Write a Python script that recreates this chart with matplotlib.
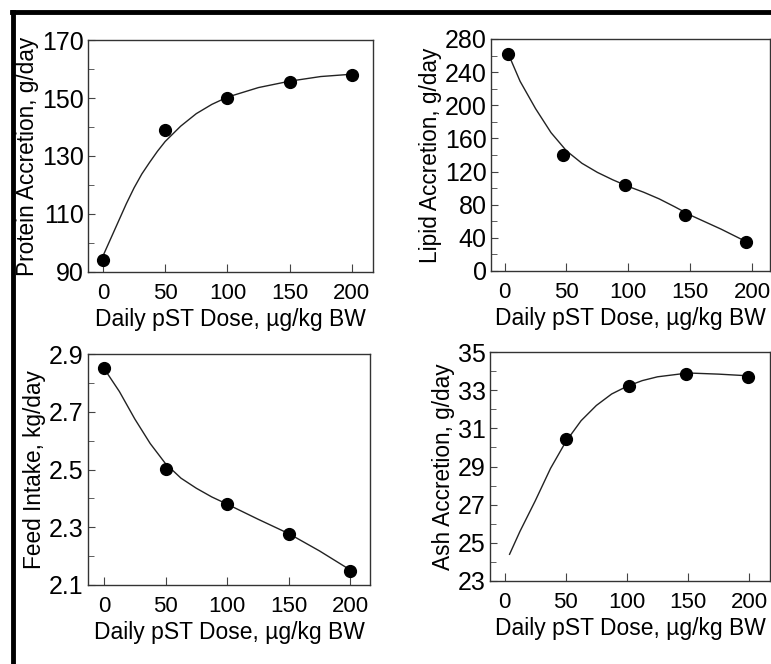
import numpy as np
import matplotlib
matplotlib.use("Agg")
import matplotlib.pyplot as plt
from matplotlib.lines import Line2D
from matplotlib.ticker import FormatStrFormatter

plt.rcParams['font.family'] = ['Liberation Sans', 'DejaVu Sans']

# measured points
dose = [0, 50, 100, 150, 200]
protein = [94, 139, 150, 155.5, 158]
lipid_dose = [3, 47, 97, 146, 195]
lipid = [262, 140, 104, 67.5, 34.5]
feed = [2.853, 2.503, 2.382, 2.276, 2.15]
ash_dose = [50, 102, 148, 199]
ash = [30.45, 33.2, 33.85, 33.7]

# fitted curves
protein_cx = [0, 6.25, 12.5, 18.75, 25, 31.25, 37.5, 43.75, 50, 62.5, 75, 87.5, 100, 125, 150, 175, 200]
protein_cy = [95.5, 101.5, 107.5, 113.5, 119, 123.8, 127.8, 131.6, 135, 140.3, 144.6, 147.8, 150.3,
              153.6, 155.8, 157.4, 158.2]
lipid_cx = [3, 12.5, 25, 37.5, 50, 62.5, 75, 87.5, 100, 112.5, 125, 137.5, 150, 175, 195]
lipid_cy = [262, 229, 196, 167, 145, 130, 119, 110, 102, 95, 87, 77.5, 67.5, 50.5, 35.6]
feed_cx = [0, 12.5, 25, 37.5, 50, 62.5, 75, 87.5, 100, 125, 150, 175, 200]
feed_cy = [2.85, 2.77, 2.675, 2.59, 2.52, 2.47, 2.435, 2.405, 2.38, 2.328, 2.278, 2.218, 2.152]
ash_cx = [4, 12.5, 25, 37.5, 50, 62.5, 75, 87.5, 100, 112.5, 125, 150, 175, 200]
ash_cy = [24.4, 25.6, 27.2, 28.9, 30.3, 31.4, 32.2, 32.8, 33.2, 33.5, 33.7, 33.9, 33.84, 33.75]

protein_ticks = [90, 110, 130, 150, 170]
lipid_ticks = [0, 40, 80, 120, 160, 200, 240, 280]
feed_ticks = [2.1, 2.3, 2.5, 2.7, 2.9]
ash_ticks = [23, 25, 27, 29, 31, 33, 35]

W, H = 771, 664
fig = plt.figure(figsize=(W / 100, H / 100), dpi=100)

def box(l, r, t, b):
    return [l / W, 1 - b / H, (r - l) / W, (b - t) / H]

panels = [
    (box(88, 373, 40, 272), dose, protein, protein_cx, protein_cy, (-12, 217), protein_ticks, None,
     'Protein Accretion, g/day'),
    (box(491, 770, 39, 271), lipid_dose, lipid, lipid_cx, lipid_cy, (-11, 214.5), lipid_ticks, None,
     'Lipid Accretion, g/day'),
    (box(88, 370, 354, 585), dose, feed, feed_cx, feed_cy, (-13, 216), feed_ticks, '%.1f',
     'Feed Intake, kg/day'),
    (box(490, 770, 352, 581), ash_dose, ash, ash_cx, ash_cy, (-12, 217), ash_ticks, None,
     'Ash Accretion, g/day'),
]

for rect, px, py, cx, cy, xl, yt, fmt, ylab in panels:
    ax = fig.add_axes(rect)
    ax.plot(cx, cy, '-', color='#222222', lw=1.0)
    ax.plot(px, py, 'o', color='black', ms=8.5)
    ax.set_xlim(*xl)
    ax.set_ylim(yt[0], yt[-1])
    ax.set_xticks(dose)
    ax.set_yticks(yt)
    step = yt[1] - yt[0]
    ax.set_yticks([v + step / 2 for v in yt[:-1]], minor=True)
    if fmt:
        ax.yaxis.set_major_formatter(FormatStrFormatter(fmt))
    ax.tick_params(axis='both', which='both', direction='in', color='#444444')
    ax.tick_params(axis='x', length=6, pad=8, labelsize=16)
    ax.tick_params(axis='y', which='major', length=5, pad=3, labelsize=18)
    ax.tick_params(axis='y', which='minor', length=4)
    for s in ax.spines.values():
        s.set_color('#333333')
        s.set_linewidth(1.0)
    ax.set_xlabel('Daily pST Dose, µg/kg BW', fontsize=16.5, labelpad=3)
    ax.set_ylabel(ylab, fontsize=16.3, labelpad=2)

# thick frame on top and left
fig.add_artist(Line2D([12 / W, 1], [1 - 12 / H, 1 - 12 / H], color='black', lw=3.5,
                      transform=fig.transFigure))
fig.add_artist(Line2D([13 / W, 13 / W], [0, 1 - 12 / H], color='black', lw=3.5,
                      transform=fig.transFigure))

fig.savefig('out.png', dpi=100)
